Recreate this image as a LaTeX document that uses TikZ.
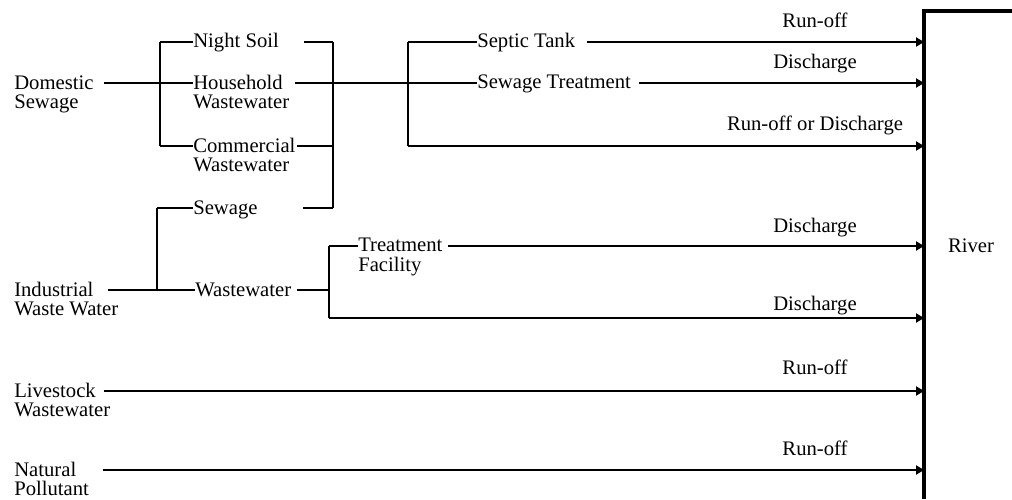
\documentclass[tikz,border=0pt]{standalone}
\usepackage{fontspec}
\setmainfont{Liberation Serif}
\usetikzlibrary{arrows.meta}

\tikzset{
  lbl/.style={inner sep=0pt, align=left, anchor=base west, font=\fontsize{15.5}{14.6}\selectfont},
  flowlbl/.style={lbl, anchor=base, align=center},
  flow/.style={line width=1pt},
  brk/.style={line width=1.6pt},
  arr/.style={flow, -{Triangle[length=6pt,width=7pt]}},
}

\begin{document}
\begin{tikzpicture}[x=0.75pt, y=-0.75pt]
		\useasboundingbox (0,0) rectangle (1012,499);
		% sources
		\node[lbl] (ds) at (14,108.5) {Domestic\\Sewage};
		\node[lbl] (iw) at (14,315.5) {Industrial\\Waste Water};
		\node[lbl] (lw) at (14,416.5) {Livestock\\Wastewater};
		\node[lbl] (np) at (14,495.5) {Natural\\Pollutant};
		% branches
		\node[lbl] (ns) at (193,48) {Night Soil};
		\node[lbl] (hw) at (193,108.5) {Household\\Wastewater};
		\node[lbl] (cw) at (193,171.5) {Commercial\\Wastewater};
		\node[lbl] (sw) at (193,214) {Sewage};
		\node[lbl] (ww) at (195,296) {Wastewater};
		\node[lbl] (st) at (477,48) {Septic Tank};
		\node[lbl] (sg) at (477,89) {Sewage Treatment};
		\node[lbl] (tf) at (358,271) {Treatment\\Facility};
		\node[lbl, anchor=base] (rv) at (971,252) {River};
		% labels on the arrows
		\node[flowlbl] (l1) at (815,28) {Run-off};
		\node[flowlbl] (l2) at (815,69) {Discharge};
		\node[flowlbl] (l3) at (815,131) {Run-off or Discharge};
		\node[flowlbl] (l4) at (815,232) {Discharge};
		\node[flowlbl] (l5) at (815,310) {Discharge};
		\node[flowlbl] (l6) at (815,374) {Run-off};
		\node[flowlbl] (l7) at (815,455) {Run-off};
		% bracket corners
		\coordinate (b1t) at (160,42); \coordinate (b1m) at (160,83); \coordinate (b1b) at (160,146);
		\coordinate (b2t) at (333,42); \coordinate (b2m) at (333,83); \coordinate (b2c) at (333,146); \coordinate (b2b) at (333,208);
		\coordinate (b3t) at (408,42); \coordinate (b3m) at (408,83); \coordinate (b3b) at (408,146);
		\coordinate (b4t) at (157,208); \coordinate (b4b) at (157,290);
		\coordinate (b5t) at (329,246); \coordinate (b5m) at (329,290); \coordinate (b5b) at (329,318);
		\coordinate (e6) at (924,391); \coordinate (e7) at (924,470);
		\coordinate (rtop) at (924,11); \coordinate (rbot) at (924,499);
		% river
		\draw[line width=2.4pt] (1012,11) -- (rtop) -- (rbot);
		% domestic sewage
		\draw[brk] (b1t) -- (b1b);
		\draw[flow] ([xshift=8pt]ds.east |- b1m) -- (b1m) -- (hw.west |- b1m);
		\draw[flow] (b1t) -- (ns.west |- b1t);
		\draw[flow] (b1b) -- (cw.west |- b1b);
		\draw[brk] (b2t) -- (b2b);
		\draw[flow] ([xshift=19pt]ns.east |- b2t) -- (b2t);
		\draw[flow] ([xshift=4pt]hw.east |- b2m) -- (b2m) -- (b3m);
		\draw[flow] ([xshift=1pt]cw.east |- b2c) -- (b2c);
		\draw[flow] ([xshift=34pt]sw.east |- b2b) -- (b2b);
		\draw[brk] (b3t) -- (b3b);
		\draw[flow] (b3t) -- (st.west |- b3t);
		\draw[flow] (b3m) -- (sg.west |- b3m);
		\draw[arr] ([xshift=9pt]st.east |- b3t) -- (rtop |- b3t);
		\draw[arr] ([xshift=6pt]sg.east |- b3m) -- (rtop |- b3m);
		\draw[arr] (b3b) -- (rtop |- b3b);
		% industrial waste water
		\draw[brk] (b4t) -- (b4b);
		\draw[flow] ([xshift=-8pt]iw.east |- b4b) -- (b4b) -- (ww.west |- b4b);
		\draw[flow] (b4t) -- (sw.west |- b4t);
		\draw[flow] ([xshift=4pt]ww.east |- b5m) -- (b5m);
		\draw[brk] (b5t) -- (b5b);
		\draw[flow] (b5t) -- (tf.west |- b5t);
		\draw[arr] ([xshift=4pt]tf.east |- b5t) -- (rtop |- b5t);
		\draw[arr] (b5b) -- (rtop |- b5b);
		% livestock and natural
		\draw[arr] ([xshift=-5pt]lw.east |- e6) -- (e6);
		\draw[arr] ([xshift=10pt]np.east |- e7) -- (e7);
		\end{tikzpicture}
\end{document}
